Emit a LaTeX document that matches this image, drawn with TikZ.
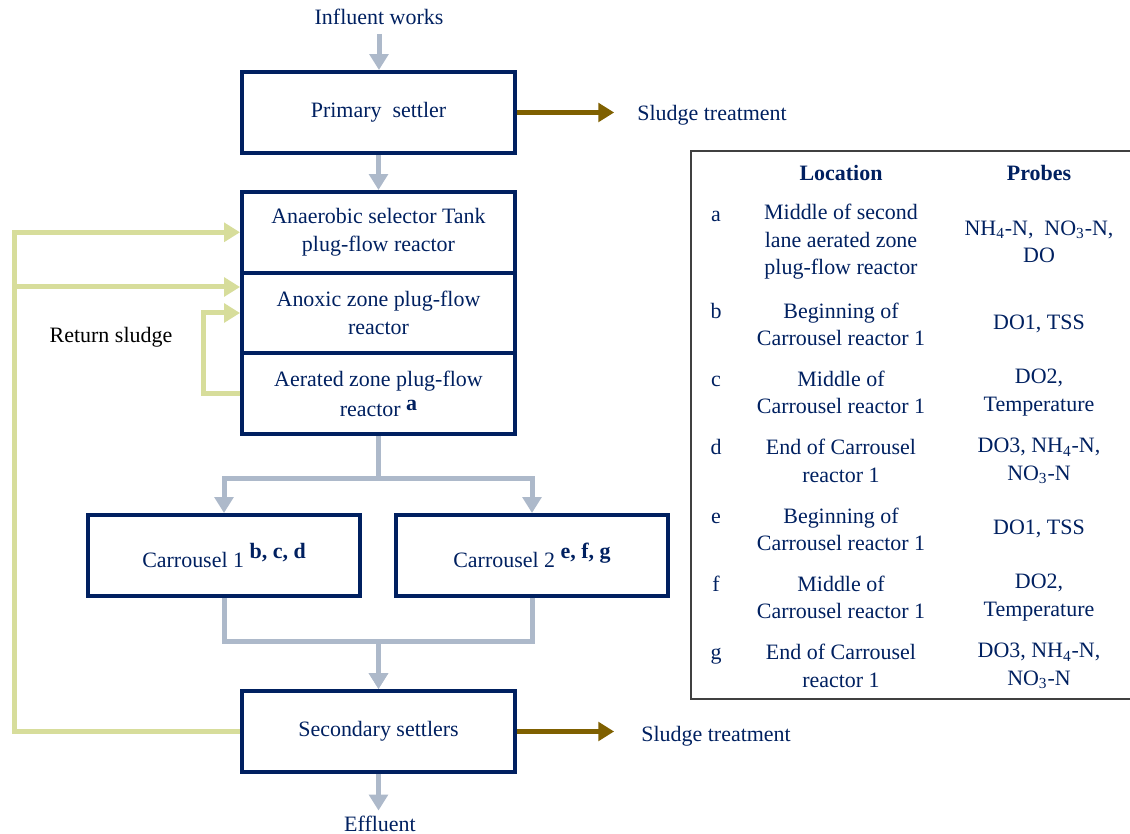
\documentclass[tikz,border=0pt]{standalone}
\usepackage{fontspec}
\setmainfont{Liberation Serif}
\usetikzlibrary{arrows.meta}

\definecolor{navy}{HTML}{002060}
\definecolor{flowgray}{HTML}{ADB9CA}
\definecolor{returngreen}{HTML}{D7DD9B}
\definecolor{sludgebrown}{HTML}{7F6000}
\definecolor{tableline}{HTML}{404040}

% bold probe marks set beside a unit name (optional raise)
\newcommand\probemark[2][5pt]{\raisebox{#1}{\bfseries #2}}

\begin{document}
\begin{tikzpicture}[x=0.02cm, y=-0.02cm,
  label text/.style={inner sep=0pt, text=navy, align=center,
    font=\fontsize{12.5}{15.9}\selectfont},
  unitbox/.style={draw=navy, line width=0.08cm, minimum width=5.46cm,
    minimum height=1.62cm, inner sep=0pt, text=navy, align=center,
    font=\fontsize{12.5}{15.9}\selectfont},
  zonebox/.style={unitbox, minimum height=1.613cm},
  cell/.style={inner sep=0pt, text=navy, align=center,
    font=\fontsize{12.5}{15.6}\selectfont},
  headcell/.style={cell, font=\fontsize{12.5}{15.6}\selectfont\bfseries},
  lettercell/.style={cell, anchor=base},
  tip/.style={-{Triangle[width=10.5pt,length=9pt]}},
  flowline/.style={draw=flowgray, line width=0.1cm},
  flowarrow/.style={flowline, tip},
  returnarrow/.style={draw=returngreen, line width=0.1cm, tip},
  sludgearrow/.style={draw=sludgebrown, line width=0.1cm, tip},
]
\useasboundingbox (0,0) rectangle (1130,834);

% ---- treatment units ----
\node[label text] (infl) at (379,17) {Influent works};
\node[unitbox] (prim) at (378.5,112.5) {Primary\ \ settler};
\node[zonebox] (anae) at (378.5,232.3) {Anaerobic selector Tank\\plug-flow reactor};
\node[zonebox] (anox) at (378.5,313) {Anoxic zone plug-flow\\reactor};
\node[zonebox] (aera) at (378.5,393.7) {Aerated zone plug-flow\\[1.5pt]reactor \probemark[3.5pt]{a}};
\node[unitbox] (car1) at (224,555.5) {Carrousel 1 \probemark{b, c, d}};
\node[unitbox] (car2) at (532,555.5) {Carrousel 2 \probemark{e, f, g}};
\node[unitbox] (sec) at (378.5,731.5) {Secondary settlers};
\node[label text] (eff) at (380,824) {Effluent};
\node[label text, anchor=west] (sl1) at (637,115) {Sludge treatment};
\node[label text, anchor=west] (sl2) at (641,736) {Sludge treatment};
\node[label text, text=black] (ret) at (111,337) {Return sludge};

% ---- main flow ----
\draw[flowarrow, shorten <=5pt] (infl.south) -- (infl.south |- prim.north);
\draw[flowarrow] (prim.south) -- (anae.north);
\draw[flowarrow] (aera.south) -- ++(0,42) -| (car1.north);
\draw[flowarrow] (aera.south) -- ++(0,42) -| (car2.north);
\draw[flowarrow] (car1.south) -- ++(0,44) -| (sec.north);
\draw[flowarrow] (car2.south) -- ++(0,44) -| (sec.north);
\draw[flowarrow, shorten >=3pt] (sec.south) -- (sec.south |- eff.north);

% ---- sludge withdrawal ----
\draw[sludgearrow, shorten >=13pt] (prim.east) -- (prim.east -| sl1.west);
\draw[sludgearrow, shorten >=15.3pt] (sec.east) -- (sec.east -| sl2.west);

% ---- return sludge and internal recycle ----
\coordinate (rs) at (14,287);
\draw[returnarrow] (sec.west) -- ++(-226,0) |- (anae.west);
\draw[returnarrow] (rs) -- (rs -| anox.west);
\draw[returnarrow] (aera.west) -- ++(-37,0) |- (anox.west);

% ---- probe table ----
\draw[tableline, line width=1.1pt] (1132,151) -- (691,151) -- (691,699) -- (1132,699);
\node[headcell] (hloc) at (841,173) {Location};
\node[headcell] (hpro) at (1039,173) {Probes};

\node[lettercell] (la) at (716,222) {a};
\node[cell] (loca) at (841,242) {Middle of second\\lane aerated zone\\plug-flow reactor};
\node[cell] (proa) at (1039,242) {NH\textsubscript{4}-N,\ \ NO\textsubscript{3}-N,\\DO};

\node[lettercell] (lb) at (716,319) {b};
\node[cell] (locb) at (841,324.5) {Beginning of\\Carrousel reactor 1};
\node[cell] (prob) at (1039,324) {DO1, TSS};

\node[lettercell] (lc) at (716,387) {c};
\node[cell] (locc) at (841,392.5) {Middle of\\Carrousel reactor 1};
\node[cell] (proc) at (1039,392.5) {DO2,\\Temperature};

\node[lettercell] (ld) at (716,455) {d};
\node[cell] (locd) at (841,461) {End of Carrousel\\reactor 1};
\node[cell] (prod) at (1039,461) {DO3, NH\textsubscript{4}-N,\\NO\textsubscript{3}-N};

\node[lettercell] (le) at (716,524) {e};
\node[cell] (loce) at (841,529.5) {Beginning of\\Carrousel reactor 1};
\node[cell] (proe) at (1039,529) {DO1, TSS};

\node[lettercell] (lf) at (716,592) {f};
\node[cell] (locf) at (841,597.5) {Middle of\\Carrousel reactor 1};
\node[cell] (prof) at (1039,597.5) {DO2,\\Temperature};

\node[lettercell] (lg) at (716,660) {g};
\node[cell] (locg) at (841,666) {End of Carrousel\\reactor 1};
\node[cell] (prog) at (1039,666) {DO3, NH\textsubscript{4}-N,\\NO\textsubscript{3}-N};
\end{tikzpicture}
\end{document}
